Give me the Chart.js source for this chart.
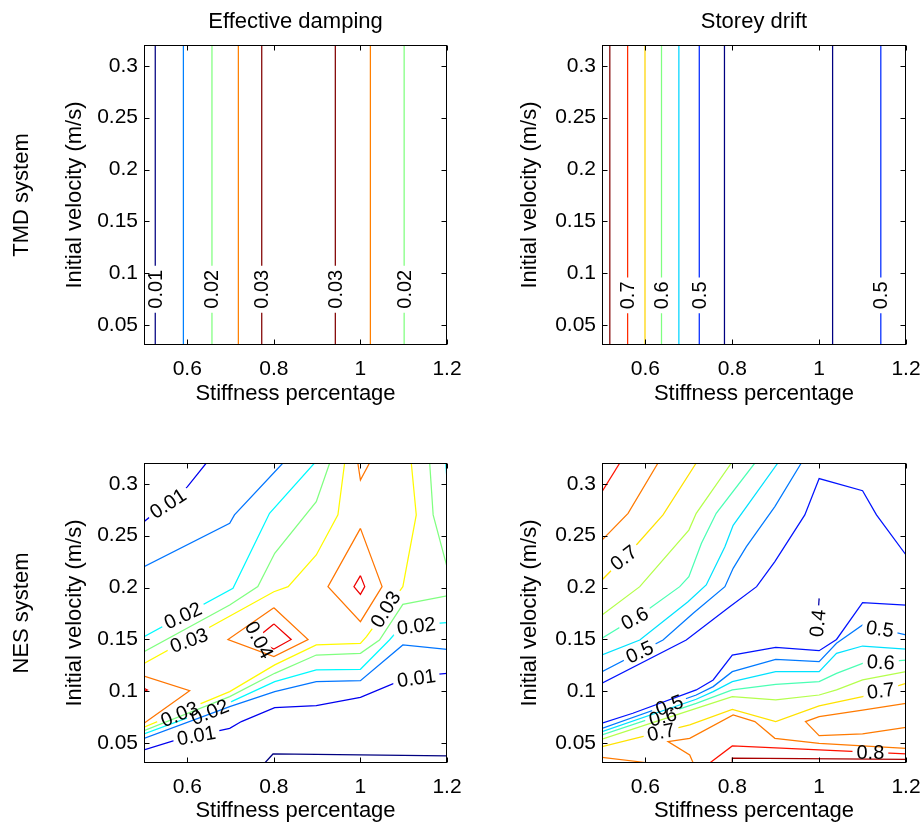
<!DOCTYPE html>
<html>
<head>
<meta charset="utf-8">
<script src="https://cdn.jsdelivr.net/npm/chart.js@4.4.1/dist/chart.umd.min.js"></script>
<style>
  body { margin: 0; background: #fff; }
  #fig { position: relative; width: 923px; height: 825px; }
  #fig canvas { position: absolute; }
</style>
</head>
<body>
<div id="fig">
  <canvas id="tmdDamping" width="461" height="413" style="left:0;top:0"></canvas>
  <canvas id="tmdDrift" width="462" height="413" style="left:461px;top:0"></canvas>
  <canvas id="nesDamping" width="461" height="412" style="left:0;top:413px"></canvas>
  <canvas id="nesDrift" width="462" height="412" style="left:461px;top:413px"></canvas>
</div>
<script>
const xTicks = [0.6, 0.8, 1, 1.2];
const yTicks = [0.05, 0.1, 0.15, 0.2, 0.25, 0.3];
const xMin = 0.5, xMax = 1.2, yMin = 0.031, yMax = 0.32;

// TMD system: contours are straight lines, one stiffness value per line
const tmdDampingLevels = [0.01, 0.015, 0.02, 0.025, 0.03, 0.03, 0.025, 0.02];
const tmdDampingX = [0.526, 0.591, 0.657, 0.718, 0.772, 0.942, 1.023, 1.101];
const tmdDampingLabelled = [0, 2, 4, 5, 7];
const tmdDampingLabelY = 0.0847;

const tmdDriftLevels = [0.75, 0.7, 0.65, 0.6, 0.55, 0.5, 0.45, 0.45, 0.5];
const tmdDriftX = [0.518, 0.559, 0.599, 0.637, 0.677, 0.724, 0.782, 1.031, 1.142];
const tmdDriftLabelled = [1, 3, 5, 8];
const tmdDriftLabelY = 0.0788;

// NES system: [level, [[stiffness, velocity], ...]]
const nesDampingLines = [
  [0.01, [[0.5, 0.2635], [0.6, 0.297], [0.644, 0.32]]],
  [0.015, [[0.5, 0.22], [0.698, 0.262], [0.709, 0.27], [0.821, 0.32]]],
  [0.02, [[0.5, 0.1527], [0.7056, 0.1993], [0.79, 0.2715], [0.894, 0.32]]],
  [0.025, [[0.5, 0.1383], [0.698, 0.1832], [0.763, 0.2009], [0.802, 0.233], [0.898, 0.2827], [0.929, 0.32]]],
  [0.03, [[0.5, 0.127], [0.8, 0.196], [0.833, 0.2009], [0.898, 0.2314], [0.948, 0.27], [0.9635, 0.32]]],
  [0.03, [[1.1175, 0.32], [1.129, 0.27], [1.098, 0.2009], [1.014, 0.1527], [1.0, 0.1463], [0.898, 0.1447], [0.802, 0.1255], [0.698, 0.0998], [0.5, 0.0654]]],
  [0.025, [[1.16, 0.32], [1.168, 0.27], [1.2, 0.22]]],
  [0.025, [[1.2, 0.192], [1.098, 0.1838], [1.044, 0.1495], [1.0, 0.1367], [0.898, 0.135], [0.802, 0.1174], [0.698, 0.095], [0.5, 0.0622]]],
  [0.02, [[1.2, 0.1662], [1.175, 0.1656], [1.087, 0.159], [1.067, 0.1495], [1.0, 0.1213], [0.898, 0.1206], [0.802, 0.1094], [0.702, 0.0901], [0.5, 0.059]]],
  [0.015, [[0.5, 0.0548], [0.698, 0.0853], [0.802, 0.0998], [0.898, 0.1094], [1.0, 0.1103], [1.098, 0.1447], [1.2, 0.1405]]],
  [0.01, [[0.5, 0.0436], [0.575, 0.0532], [0.698, 0.0644], [0.725, 0.0709], [0.802, 0.0843], [0.898, 0.0863], [1.0, 0.0943], [1.087, 0.1094], [1.175, 0.1164], [1.2, 0.1174]]],
  [0.005, [[0.779, 0.031], [0.798, 0.0397], [1.2, 0.0378]]],
  [0.035, [[1.0, 0.257], [1.05, 0.2009], [1.0, 0.1672], [0.925, 0.2009], [1.0, 0.257]]],
  [0.04, [[1.0, 0.2115], [1.01, 0.2009], [1.0, 0.1935], [0.985, 0.2009], [1.0, 0.2115]]],
  [0.035, [[0.8, 0.1806], [0.879, 0.15], [0.8, 0.1335], [0.694, 0.15], [0.8, 0.1806]]],
  [0.04, [[0.8, 0.165], [0.84, 0.15], [0.8, 0.1408], [0.756, 0.15], [0.8, 0.165]]],
  [0.035, [[0.994, 0.32], [1.0, 0.3036], [1.021, 0.32]]],
  [0.035, [[0.5, 0.1148], [0.6055, 0.1007], [0.5, 0.0693]]],
  [0.04, [[0.5, 0.103], [0.5077, 0.1014], [0.5, 0.0998]]],
  [0.02, [[1.197, 0.32], [1.2, 0.3036]]]
];
// [line index, stiffness, velocity, angle in degrees]
const nesDampingLabels = [
  [0, 0.5555, 0.281, -33], [2, 0.59, 0.173, -25], [4, 0.604, 0.149, -20],
  [15, 0.766, 0.1495, 62], [5, 1.058, 0.179, -58], [8, 1.129, 0.163, -7],
  [10, 1.129, 0.1127, -8], [5, 0.582, 0.078, -22], [8, 0.652, 0.08, -22],
  [10, 0.621, 0.0574, -10]
];

const nesDriftLines = [
  [0.8, [[0.541, 0.32], [0.5, 0.2924]]],
  [0.75, [[0.629, 0.32], [0.56, 0.2715], [0.5, 0.2458]]],
  [0.7, [[0.717, 0.32], [0.6405, 0.27], [0.579, 0.241], [0.5, 0.2073]]],
  [0.65, [[0.798, 0.32], [0.717, 0.2715], [0.7, 0.2554], [0.587, 0.2009], [0.5, 0.1736]]],
  [0.6, [[0.852, 0.32], [0.763, 0.2715], [0.729, 0.2426], [0.7, 0.2105], [0.679, 0.2009], [0.594, 0.1752], [0.5, 0.1511]]],
  [0.55, [[0.905, 0.32], [0.802, 0.26], [0.783, 0.2394], [0.74, 0.2025], [0.698, 0.1864], [0.587, 0.1495], [0.5, 0.135]]],
  [0.5, [[0.959, 0.32], [0.898, 0.278], [0.8325, 0.2394], [0.802, 0.2185], [0.783, 0.2009], [0.71, 0.1752], [0.6405, 0.1495], [0.5, 0.119]]],
  [0.45, [[1.2, 0.2314], [1.132, 0.27], [1.1, 0.2933], [1.0, 0.305], [0.967, 0.27], [0.898, 0.225], [0.856, 0.2009], [0.794, 0.1816], [0.694, 0.1495], [0.5, 0.1078]]],
  [0.4, [[1.0, 0.1896], [0.995, 0.16]]],
  [0.45, [[0.5, 0.0693], [0.571, 0.0789], [0.717, 0.1014], [0.756, 0.111], [0.8, 0.135], [0.9, 0.1424], [1.0, 0.1392], [1.04, 0.15], [1.1, 0.1855], [1.2, 0.1832]]],
  [0.5, [[0.5, 0.0644], [0.717, 0.0965], [0.756, 0.1046], [0.8, 0.119], [0.9, 0.1309], [1.0, 0.1287], [1.04, 0.1463], [1.1, 0.164], [1.2, 0.1543]]],
  [0.55, [[0.5, 0.0612], [0.717, 0.0924], [0.756, 0.0998], [0.8, 0.1094], [0.9, 0.119], [1.0, 0.119], [1.04, 0.1367], [1.1, 0.1437], [1.2, 0.1408]]],
  [0.6, [[0.5, 0.058], [0.717, 0.0885], [0.8, 0.1014], [0.9, 0.1068], [1.0, 0.1094], [1.04, 0.1174], [1.1, 0.127], [1.2, 0.13]]],
  [0.65, [[0.5, 0.0539], [0.717, 0.0837], [0.8, 0.095], [0.9, 0.0917], [1.0, 0.0965], [1.04, 0.1014], [1.1, 0.111], [1.2, 0.119]]],
  [0.7, [[0.5, 0.0468], [0.702, 0.0677], [0.8, 0.0827], [0.9, 0.0709], [1.0, 0.086], [1.1, 0.095], [1.2, 0.1078]]],
  [0.75, [[0.5, 0.0365], [0.61, 0.031]]],
  [0.75, [[0.71, 0.031], [0.702, 0.0388], [0.652, 0.0516], [0.702, 0.0548], [0.802, 0.0773], [0.852, 0.0709], [0.898, 0.0548], [1.0, 0.05], [1.2, 0.0452]]],
  [0.75, [[1.2, 0.0885], [1.1, 0.082], [1.0, 0.0757], [0.9685, 0.0709], [1.0, 0.0574], [1.1, 0.059], [1.2, 0.0654]]],
  [0.8, [[0.748, 0.031], [0.8, 0.0474], [1.0, 0.0436], [1.2, 0.0397]]],
  [0.85, [[0.8, 0.031], [0.8, 0.0356], [1.2, 0.0346]]]
];
const nesDriftLabels = [
  [2, 0.55, 0.2286, -38], [4, 0.5753, 0.1704, -28], [6, 0.5868, 0.1378, -25],
  [8, 0.997, 0.1656, -84], [10, 1.14, 0.1601, 8], [12, 1.142, 0.128, 3],
  [14, 1.142, 0.1004, -7], [18, 1.118, 0.0413, 0], [10, 0.655, 0.0865, -20],
  [12, 0.64, 0.0755, -15], [14, 0.636, 0.0607, -12]
];

// colour limits (data range) of each panel
const tmdDampingRange = [0.01, 0.03];
const tmdDriftRange = [0.45, 0.75];
const nesDampingRange = [0.0058, 0.0442];
const nesDriftRange = [0.38, 0.87];

const FONT = '"Liberation Sans", Arial, Helvetica, sans-serif';
const LABEL_SIZE = 20;
Chart.defaults.font.family = FONT;
Chart.defaults.color = '#000';

function jet(v, lo, hi) {
  const t = Math.min(1, Math.max(0, (v - lo) / (hi - lo)));
  const ch = f => Math.round(255 * Math.min(1, Math.max(0, f)));
  return 'rgb(' + ch(Math.min(4 * t - 1.5, -4 * t + 4.5)) + ',' +
    ch(Math.min(4 * t - 0.5, -4 * t + 3.5)) + ',' +
    ch(Math.min(4 * t + 0.5, -4 * t + 2.5)) + ')';
}

function labelCorners(chart, lab, w, h) {
  const px = chart.scales.x.getPixelForValue(lab[1]);
  const py = chart.scales.y.getPixelForValue(lab[2]);
  const a = lab[3] * Math.PI / 180, c = Math.cos(a), s = Math.sin(a);
  return [[-w / 2, -h / 2], [w / 2, -h / 2], [w / 2, h / 2], [-w / 2, h / 2]]
    .map(([u, v]) => [px + u * c - v * s, py + u * s + v * c]);
}

// breaks contour lines under their labels, then draws labels, box and inward ticks
const contourFrame = {
  id: 'contourFrame',
  beforeDatasetDraw(chart, args, opts) {
    const mine = opts.labels.filter(l => l[0] === args.index);
    if (!mine.length) return;
    const ctx = chart.ctx, a = chart.chartArea;
    ctx.save();
    ctx.font = LABEL_SIZE + 'px ' + FONT;
    ctx.beginPath();
    ctx.rect(a.left, a.top, a.right - a.left, a.bottom - a.top);
    mine.forEach(l => {
      const w = ctx.measureText(String(opts.levels[l[0]])).width + 8;
      const pts = labelCorners(chart, l, w, 14);
      ctx.moveTo(pts[0][0], pts[0][1]);
      pts.slice(1).forEach(p => ctx.lineTo(p[0], p[1]));
      ctx.closePath();
    });
    ctx.clip('evenodd');
  },
  afterDatasetDraw(chart, args, opts) {
    if (opts.labels.some(l => l[0] === args.index)) chart.ctx.restore();
  },
  afterDraw(chart, args, opts) {
    const ctx = chart.ctx, a = chart.chartArea;
    const sx = chart.scales.x, sy = chart.scales.y;
    ctx.save();
    ctx.fillStyle = '#000';
    ctx.font = LABEL_SIZE + 'px ' + FONT;
    ctx.textAlign = 'center';
    ctx.textBaseline = 'middle';
    opts.labels.forEach(l => {
      ctx.save();
      ctx.translate(sx.getPixelForValue(l[1]), sy.getPixelForValue(l[2]));
      ctx.rotate(l[3] * Math.PI / 180);
      ctx.fillText(String(opts.levels[l[0]]), 0, 1);
      ctx.restore();
    });

    ctx.strokeStyle = '#000';
    ctx.lineWidth = 1;
    const L = Math.round(a.left) + 0.5, R = Math.round(a.right) - 0.5;
    const T = Math.round(a.top) + 0.5, B = Math.round(a.bottom) - 0.5;
    ctx.strokeRect(L, T, R - L, B - T);
    ctx.beginPath();
    xTicks.forEach(v => {
      const x = Math.round(sx.getPixelForValue(v)) + 0.5;
      ctx.moveTo(x, B); ctx.lineTo(x, B - 5);
      ctx.moveTo(x, T); ctx.lineTo(x, T + 5);
    });
    yTicks.forEach(v => {
      const y = Math.round(sy.getPixelForValue(v)) + 0.5;
      ctx.moveTo(L, y); ctx.lineTo(L + 5, y);
      ctx.moveTo(R, y); ctx.lineTo(R - 5, y);
    });
    ctx.stroke();

    if (opts.rowLabel) {
      ctx.font = '22px ' + FONT;
      ctx.translate(22, (a.top + a.bottom) / 2);
      ctx.rotate(-Math.PI / 2);
      ctx.fillText(opts.rowLabel, 0, 0);
    }
    ctx.restore();
  }
};

function makeChart(id, lines, labels, range, cfg) {
  const levels = lines.map(l => l[0]);
  return new Chart(document.getElementById(id), {
    type: 'scatter',
    data: {
      datasets: lines.map(([lv, pts]) => ({
        data: pts.map(([x, y]) => ({ x, y })),
        showLine: true,
        borderColor: jet(lv, range[0], range[1]),
        borderWidth: 1.25,
        pointRadius: 0,
        fill: false,
        tension: 0
      }))
    },
    options: {
      responsive: false,
      animation: false,
      events: [],
      layout: { padding: { left: 0, top: cfg.top, right: cfg.right, bottom: 0 } },
      plugins: {
        legend: { display: false },
        tooltip: { enabled: false },
        title: {
          display: !!cfg.title,
          text: cfg.title,
          fullSize: false,
          font: { size: 22, weight: 'normal' },
          padding: { top: 9, bottom: 9.6 }
        },
        contourFrame: { labels, levels, rowLabel: cfg.rowLabel }
      },
      scales: {
        x: {
          type: 'linear', min: xMin, max: xMax,
          afterBuildTicks: s => { s.ticks = xTicks.map(v => ({ value: v })); },
          afterFit: s => { s.height = cfg.xh; s.paddingLeft = 0; s.paddingRight = 0; },
          grid: { display: false, drawTicks: false },
          border: { display: false },
          ticks: { font: { size: 21 }, padding: 12, maxRotation: 0, callback: v => String(+v.toFixed(2)) },
          title: { display: true, text: 'Stiffness percentage', font: { size: 22 }, padding: { top: 0, bottom: cfg.xtPad } }
        },
        y: {
          type: 'linear', min: yMin, max: yMax,
          afterBuildTicks: s => { s.ticks = yTicks.map(v => ({ value: v })); },
          afterFit: s => { s.width = cfg.yw; s.paddingTop = 0; s.paddingBottom = 0; },
          grid: { display: false, drawTicks: false },
          border: { display: false },
          ticks: { font: { size: 21 }, padding: 6, callback: v => String(+v.toFixed(2)) },
          title: { display: true, text: 'Initial velocity (m/s)', font: { size: 22 }, padding: { top: cfg.ytPad, bottom: 0 } }
        }
      }
    },
    plugins: [contourFrame]
  });
}

function straightLines(levels, xs) {
  return levels.map((lv, i) => [lv, [[xs[i], yMin], [xs[i], yMax]]]);
}
function straightLabels(idx, xs, y) {
  return idx.map(i => [i, xs[i], y, -90]);
}

makeChart('tmdDamping', straightLines(tmdDampingLevels, tmdDampingX),
  straightLabels(tmdDampingLabelled, tmdDampingX, tmdDampingLabelY), tmdDampingRange,
  { title: 'Effective damping', rowLabel: 'TMD system', top: 0, right: 14, xh: 68, yw: 144, xtPad: 5.8, ytPad: 61.8 });

makeChart('tmdDrift', straightLines(tmdDriftLevels, tmdDriftX),
  straightLabels(tmdDriftLabelled, tmdDriftX, tmdDriftLabelY), tmdDriftRange,
  { title: 'Storey drift', top: 0, right: 17, xh: 68, yw: 141, xtPad: 5.8, ytPad: 55.8 });

makeChart('nesDamping', nesDampingLines, nesDampingLabels, nesDampingRange,
  { rowLabel: 'NES system', top: 50, right: 14, xh: 62, yw: 144, xtPad: 0.8, ytPad: 61.8 });

makeChart('nesDrift', nesDriftLines, nesDriftLabels, nesDriftRange,
  { top: 50, right: 17, xh: 62, yw: 141, xtPad: 0.8, ytPad: 55.8 });
</script>
</body>
</html>
